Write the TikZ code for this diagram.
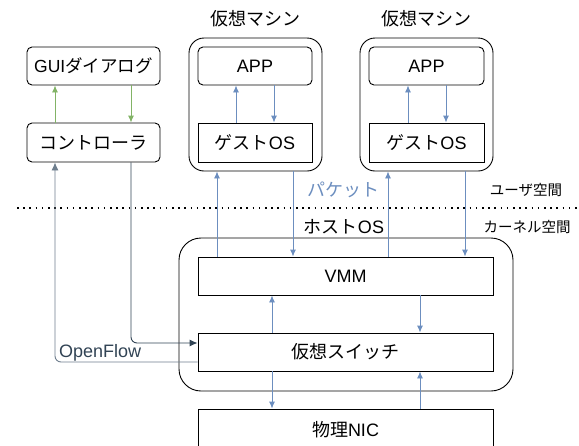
\documentclass[tikz,border=0pt]{standalone}
\usepackage{fontspec}
\usetikzlibrary{arrows.meta}
\setmainfont{Liberation Sans}
\newfontfamily\jp{Noto Sans CJK JP}
\definecolor{vblue}{HTML}{6C8EBF}
\definecolor{vgreen}{HTML}{82B366}
\definecolor{vdark}{HTML}{314354}
\definecolor{vgray}{HTML}{6E7E8D}
\tikzset{
  box/.style={draw, line width=0.9pt, inner sep=0pt, font=\fontsize{18}{20}\selectfont},
  rbox/.style={box, rounded corners=5pt},
  vmbox/.style={draw, line width=0.9pt, rounded corners=15pt, inner sep=0pt},
  hostbox/.style={draw, line width=0.9pt, rounded corners=22pt, inner sep=0pt},
  title/.style={font=\fontsize{18}{20}\selectfont},
  side/.style={font=\fontsize{14.5}{16}\selectfont},
  barr/.style={-{Latex[length=7pt,width=6pt]}, vblue, line width=0.9pt},
  garr/.style={-{Latex[length=7pt,width=6pt]}, vgreen, line width=0.9pt},
  darr/.style={-{Latex[length=8pt,width=7pt]}, vdark, line width=0.9pt, rounded corners=6pt},
}
\begin{document}
\begin{tikzpicture}[x=1pt,y=-1pt]
                \useasboundingbox (0,0) rectangle (579,445);
                % controller side
                \node[rbox, minimum width=133, minimum height=38] (gui) at (93.5,66) {\fontsize{17.5}{19}\selectfont GUI{\jp ダイアログ}};
                \node[rbox, minimum width=133, minimum height=39] (ctrl) at (93.5,142.5) {\jp コントローラ};
                % virtual machines
                \node[vmbox, minimum width=133, minimum height=133] (vm1) at (255.5,104.5) {};
                \node[vmbox, minimum width=133, minimum height=133] (vm2) at (426.5,104.5) {};
                \node[title] (t1) at (255.5,19) {\jp 仮想マシン};
                \node[title] (t2) at (426.5,19) {\jp 仮想マシン};
                \node[rbox, minimum width=114, minimum height=38] (app1) at (255,66) {APP};
                \node[box, minimum width=114, minimum height=39] (gos1) at (255,142.5) {{\jp ゲスト}OS};
                \node[rbox, minimum width=115, minimum height=38] (app2) at (426.5,66) {APP};
                \node[box, minimum width=115, minimum height=39] (gos2) at (426.5,142.5) {{\jp ゲスト}OS};
                % host
                \node[hostbox, minimum width=334, minimum height=153] (host) at (346,314.5) {};
                \node[box, fill=white, minimum width=295, minimum height=38] (vmm) at (345.5,276) {VMM};
                \node[box, fill=white, minimum width=295, minimum height=38] (sw) at (345.5,352) {\jp 仮想スイッチ};
                \node[box, minimum width=295, minimum height=42] (nic) at (345.5,430) {{\jp 物理}NIC};
                % labels
                \node[title, vblue] (pkt) at (343.5,190) {\jp パケット};
                \node[title] (hos) at (344,227) {{\jp ホスト}OS};
                \node[side] (usr) at (526,190) {\jp ユーザ空間};
                \node[side] (krn) at (527,227) {\jp カーネル空間};
                \draw[line width=1.6pt, dash pattern=on 1.6pt off 4.6pt] (17,208) -- (577,208);
                % x positions of the connectors
                \coordinate (g1) at (55,0);
                \coordinate (g2) at (131,0);
                \coordinate (a1) at (236,0);
                \coordinate (a2) at (274,0);
                \coordinate (a3) at (408,0);
                \coordinate (a4) at (446,0);
                \coordinate (p1) at (217,0);
                \coordinate (p2) at (293,0);
                \coordinate (p3) at (388,0);
                \coordinate (p4) at (465,0);
                \coordinate (s1) at (272,0);
                \coordinate (s2) at (420,0);
                \coordinate (c1) at (55,362);
                \coordinate (c2) at (131,343);
                \draw[garr] (ctrl.north -| g1) -- (gui.south -| g1);
                \draw[garr] (gui.south -| g2) -- (ctrl.north -| g2);
                \draw[barr] (gos1.north -| a1) -- (app1.south -| a1);
                \draw[barr] (app1.south -| a2) -- (gos1.north -| a2);
                \draw[barr] (gos2.north -| a3) -- (app2.south -| a3);
                \draw[barr] (app2.south -| a4) -- (gos2.north -| a4);
                \draw[barr] (vmm.north -| p1) -- (vm1.south -| p1);
                \draw[barr] (vm1.south -| p2) -- (vmm.north -| p2);
                \draw[barr] (vmm.north -| p3) -- (vm2.south -| p3);
                \draw[barr] (vm2.south -| p4) -- (vmm.north -| p4);
                \draw[barr] (sw.north -| s1) -- (vmm.south -| s1);
                \draw[barr] (vmm.south -| s2) -- (sw.north -| s2);
                \draw[barr] (sw.south -| s1) -- (nic.north -| s1);
                \draw[barr] (nic.north -| s2) -- (sw.south -| s2);
                \draw[darr] (ctrl.south -| c2) |- (sw.west |- c2);
                \draw[darr, vgray] (sw.west |- c1) -| (ctrl.south -| c1);
                \node[title, vdark, anchor=west, inner sep=0pt] (of) at (59,353) {OpenFlow};
            \end{tikzpicture}
\end{document}
